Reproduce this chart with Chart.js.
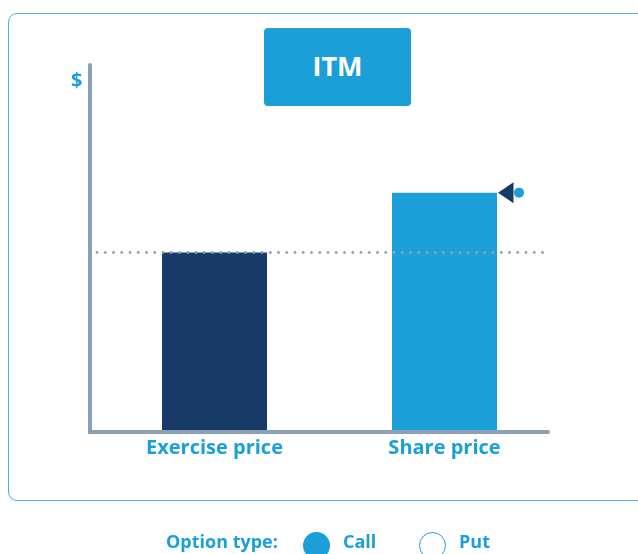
<!DOCTYPE html>
<html>
<head>
<meta charset="utf-8">
<script src="https://cdn.jsdelivr.net/npm/chart.js@4"></script>
<style>
  html, body { margin: 0; padding: 0; background: #fff; }
  body { width: 638px; height: 554px; position: relative; overflow: hidden; font-family: "Open Sans", sans-serif; }
  #carte { position: absolute; left: 8px; top: 13px; width: 660px; height: 488px; border: 1.5px solid #4db0e0; border-radius: 9px; box-sizing: border-box; }
  #etiquette { position: absolute; left: 264px; top: 28px; width: 147px; height: 78px; background: #1a9fd9; border-radius: 4px; color: #fff; font-weight: bold; font-size: 27px; line-height: 76px; text-align: center; }
  #dollar { position: absolute; left: 71px; top: 66px; color: #1a9fd9; font-weight: bold; font-size: 20px; }
  #grafica { position: absolute; left: 0; top: 0; }
  .pie { position: absolute; top: 529px; color: #1a9fd9; font-weight: bold; font-size: 18px; line-height: 24px; }
  .radio { position: absolute; top: 532px; width: 27px; height: 27px; border-radius: 50%; box-sizing: border-box; }
</style>
</head>
<body>
<div id="carte"></div>
<canvas id="grafica" width="638" height="554"></canvas>
<div id="etiquette">ITM</div>
<div id="dollar">$</div>
<div class="pie" style="left:166px">Option type:</div>
<div class="radio" style="left:303px; background:#1a9fd9;"></div>
<div class="pie" style="left:343px">Call</div>
<div class="radio" style="left:419px; border:1.5px solid #1a9fd9;"></div>
<div class="pie" style="left:459px">Put</div>

<script>
// Datos del gráfico
var categorias = ["Exercise price", "Share price"];
var valores = [60, 80];
var colores = ["#173a69", "#1a9fd9"];
var maxY = 123;

// Plugin para ejes, línea punteada y marcador
var decoracion = {
    id: 'decoracion',
    afterDatasetsDraw: function (chart) {
        var ctx = chart.ctx;
        var area = chart.chartArea;
        var y = chart.scales.y;

        // Línea punteada en el precio de ejercicio
        var yEj = y.getPixelForValue(valores[0]);
        ctx.save();
        ctx.fillStyle = '#8ea3b6';
        for (var x = area.left - 2.5; x <= area.right - 17; x += 8.25) {
            ctx.beginPath();
            ctx.arc(x, yEj, 1.4, 0, Math.PI * 2);
            ctx.fill();
        }

        // Ejes
        ctx.strokeStyle = '#8aa0b5';
        ctx.lineWidth = 4;
        ctx.lineCap = 'round';
        ctx.beginPath();
        ctx.moveTo(area.left - 9.5, area.top + 1);
        ctx.lineTo(area.left - 9.5, area.bottom);
        ctx.lineTo(area.right - 11.5, area.bottom);
        ctx.stroke();

        // Marcador al lado de la barra del precio de la acción
        var barra = chart.getDatasetMeta(0).data[1];
        var px = barra.x + barra.width / 2 + 1;
        var py = barra.y;
        ctx.fillStyle = '#173a69';
        ctx.beginPath();
        ctx.moveTo(px, py);
        ctx.lineTo(px + 15.5, py - 10.5);
        ctx.lineTo(px + 15.5, py + 10.5);
        ctx.closePath();
        ctx.fill();
        ctx.fillStyle = '#1a9fd9';
        ctx.beginPath();
        ctx.arc(px + 21, py, 5, 0, Math.PI * 2);
        ctx.fill();
        ctx.restore();
    }
};

var ctx = document.getElementById("grafica").getContext("2d");
new Chart(ctx, {
    type: 'bar',
    data: {
        labels: categorias,
        datasets: [{
            data: valores,
            backgroundColor: colores,
            borderWidth: 0,
            categoryPercentage: 1,
            barPercentage: 0.4565
        }]
    },
    options: {
        responsive: false,
        animation: false,
        layout: { padding: { left: 99.5, right: 78.5, top: 64, bottom: 90 } },
        plugins: { legend: { display: false }, tooltip: { enabled: false } },
        scales: {
            x: {
                grid: { display: false, drawTicks: false },
                border: { display: false },
                ticks: {
                    padding: 4,
                    color: '#1a9fd9',
                    font: { family: 'Open Sans', weight: 'bold', size: 20, lineHeight: 1.2 }
                }
            },
            y: {
                display: false,
                min: 0,
                max: maxY
            }
        }
    },
    plugins: [decoracion]
});
</script>
</body>
</html>
